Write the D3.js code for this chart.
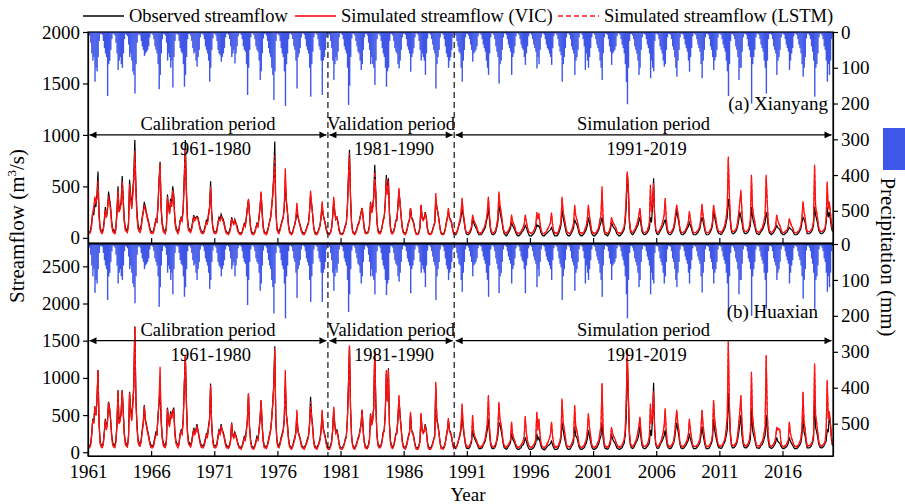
<!DOCTYPE html>
<html>
<head>
<meta charset="utf-8">
<script src="https://cdn.jsdelivr.net/npm/d3@7"></script>
<style>
  body { margin: 0; background: #fff; }
  svg text { font-family: "Liberation Serif", "Times New Roman", serif; fill: #000; }
</style>
</head>
<body>
<div id="chart"></div>
<script>
// monthly values, Jan 1961 - Dec 2019, one row per year
const xTicks = [1961, 1966, 1971, 1976, 1981, 1986, 1991, 1996, 2001, 2006, 2011, 2016];
const flowTicksXY = [0, 500, 1000, 1500, 2000];
const flowTicksHX = [0, 500, 1000, 1500, 2000, 2500];
const precipTicks = [0, 100, 200, 300, 400, 500];
const dividers = [1980, 1990];

const periods = [
  { name: "Calibration period", span: "1961-1980", from: 1961, to: 1980 },
  { name: "Validation period", span: "1981-1990", from: 1980, to: 1990 },
  { name: "Simulation period", span: "1991-2019", from: 1990, to: 2020 },
];

const precipXY = [
6,10,30,60,80,70,139,100,110,70,25,6,
5,8,25,45,60,70,179,90,80,50,20,5,
6,10,30,60,106,80,70,90,100,60,20,5,
8,12,35,70,60,80,110,120,172,90,30,8,
5,10,25,40,50,67,60,55,50,40,15,5,
4,8,20,40,50,60,90,160,120,60,20,5,
6,10,30,80,60,70,100,80,155,70,25,6,
5,8,25,45,55,60,90,153,120,70,20,5,
5,10,25,45,60,55,80,97,70,50,15,5,
4,8,20,40,50,60,80,139,100,50,18,5,
5,10,25,50,60,65,83,70,60,45,15,5,
4,8,20,40,70,60,50,88,60,40,12,4,
4,8,20,40,50,55,90,176,100,50,15,4,
4,8,20,40,50,55,80,134,110,60,18,5,
5,10,25,45,60,70,100,120,190,110,25,5,
6,10,25,45,60,70,110,207,90,60,20,5,
4,8,20,40,50,80,158,70,60,45,15,4,
4,8,20,40,50,60,100,181,90,55,15,4,
4,8,20,40,50,80,176,80,70,50,15,4,
4,8,25,45,80,134,90,70,80,55,15,4,
4,8,20,40,50,60,100,204,150,70,18,5,
5,10,25,40,55,60,80,106,90,50,15,5,
5,10,30,50,90,70,90,100,148,80,20,5,
6,10,25,45,60,70,100,153,110,100,25,6,
5,10,25,45,55,60,90,102,80,50,15,5,
4,8,20,40,50,60,111,70,60,45,15,4,
4,8,25,50,80,60,70,80,120,60,18,4,
4,8,20,35,50,60,158,90,70,50,15,4,
4,8,20,40,60,70,100,80,70,50,15,4,
5,10,25,40,55,60,100,139,80,50,15,5,
5,10,20,35,50,83,60,55,50,40,12,4,
4,8,20,35,45,55,80,100,120,60,15,4,
4,8,20,40,55,70,144,90,80,50,15,4,
4,8,20,35,45,55,120,70,60,40,12,4,
4,8,20,35,45,50,70,92,60,40,12,4,
4,8,20,35,45,55,102,70,90,50,15,4,
4,8,20,35,45,50,60,70,92,45,12,4,
4,8,20,40,55,65,139,90,70,45,15,4,
4,8,20,40,50,60,120,80,70,50,15,4,
4,8,20,40,106,60,80,100,70,45,15,4,
4,8,20,35,45,55,80,100,134,60,15,4,
5,8,20,40,55,92,60,55,50,40,12,4,
4,8,20,35,45,60,90,140,202,100,25,6,
5,10,20,40,50,60,80,120,100,50,15,5,
5,8,20,35,45,60,129,80,100,110,25,5,
5,8,20,40,50,60,80,97,90,50,15,5,
5,8,20,40,50,70,100,125,80,50,15,5,
5,8,20,35,45,55,80,111,70,45,12,4,
5,8,20,35,45,55,90,129,80,50,15,5,
5,8,20,40,50,70,106,80,70,50,15,5,
5,8,20,35,45,55,80,110,179,90,25,6,
5,10,20,40,50,70,134,100,100,55,15,5,
5,8,20,40,50,70,200,90,70,50,15,5,
5,8,20,35,45,55,80,100,172,80,20,5,
5,8,20,40,50,60,120,80,70,50,15,5,
5,8,20,35,45,55,106,80,60,45,12,4,
5,8,20,35,45,60,90,125,100,70,18,5,
5,10,20,40,55,80,181,100,90,60,15,5,
5,10,20,40,50,80,139,90,120,80,20,5
];

const obsXY = [
60,50,80,150,250,220,330,300,420,645,250,100,
70,60,90,180,300,200,260,450,380,300,160,90,
70,60,110,260,500,260,300,350,600,380,180,100,
80,70,150,565,420,300,450,600,950,520,260,130,
90,80,120,200,260,350,300,250,200,160,110,70,
60,50,80,130,180,160,320,560,740,300,150,90,
70,60,110,420,300,250,380,330,500,420,200,110,
80,60,90,170,200,180,300,600,950,480,200,100,
80,70,100,160,220,180,200,210,200,150,100,70,
60,50,80,120,170,150,230,300,550,260,120,70,
60,50,80,150,200,180,230,200,180,140,90,60,
50,50,70,110,200,160,140,180,150,120,80,50,
50,40,60,100,140,120,200,300,370,230,110,60,
50,40,60,100,140,120,200,300,430,250,110,60,
50,50,70,110,160,200,300,420,600,935,300,110,
70,60,90,130,170,200,300,500,350,260,130,70,
50,40,60,100,130,180,250,200,160,130,90,60,
50,40,60,90,120,150,250,400,330,230,110,60,
50,40,60,90,120,200,300,220,180,140,90,50,
40,40,60,100,200,350,250,180,200,160,90,50,
40,40,50,80,120,150,300,600,855,400,150,70,
50,40,60,90,130,150,200,250,290,200,100,60,
50,50,70,120,350,250,300,400,710,450,180,80,
60,50,70,110,180,200,350,610,450,580,250,100,
60,50,70,110,170,180,300,450,350,230,120,60,
50,40,60,100,150,180,290,200,180,150,90,50,
40,40,60,110,320,200,180,200,250,200,100,50,
40,40,50,80,120,150,350,300,250,180,100,50,
40,40,50,90,150,200,250,200,180,150,90,50,
40,30,50,80,120,150,200,280,220,150,80,40,
30,30,40,60,90,180,150,120,100,80,50,30,
30,30,40,60,80,100,150,200,300,180,80,40,
30,30,40,60,100,150,330,250,200,150,80,40,
30,20,30,50,70,90,150,120,100,80,50,30,
20,20,30,40,60,70,90,120,100,70,40,20,
20,20,30,40,60,80,130,110,120,90,50,30,
20,20,30,40,50,60,70,80,100,70,40,20,
20,20,30,50,80,120,270,200,150,100,50,30,
20,20,30,50,70,100,180,150,130,100,50,30,
20,20,30,40,60,80,120,200,150,100,50,30,
20,20,30,40,60,80,120,150,200,130,60,30,
30,20,30,50,80,150,120,100,90,70,40,30,
20,20,30,40,60,80,150,300,620,450,150,60,
40,30,40,60,80,100,120,160,200,130,60,40,
30,30,40,50,70,90,200,150,300,580,200,70,
40,30,40,60,80,100,120,150,180,120,60,40,
30,30,40,60,80,120,200,270,200,150,70,40,
30,30,40,50,70,90,110,150,120,90,50,30,
30,30,40,50,70,90,150,200,160,110,60,30,
30,30,40,60,80,120,270,200,150,100,60,40,
40,30,40,60,80,100,150,200,380,300,150,60,
40,40,50,60,80,120,180,250,200,150,80,50,
40,40,50,60,80,120,300,200,150,120,70,40,
40,30,40,60,70,90,120,150,250,200,100,50,
40,30,40,50,70,90,120,100,90,80,50,40,
30,30,40,50,60,80,100,90,80,70,50,30,
30,30,40,50,70,90,150,200,180,150,80,40,
40,40,50,60,80,120,300,220,180,130,70,50,
40,40,50,60,80,150,300,200,250,180,100,60
];

const vicXY = [
40,40,60,120,250,300,400,350,380,500,200,80,
50,40,70,150,250,200,300,380,350,260,120,60,
50,40,80,220,450,250,280,330,520,330,150,70,
60,50,120,500,380,280,400,550,780,450,200,90,
60,50,90,180,240,300,280,230,180,140,90,50,
40,40,60,110,160,150,300,520,700,280,120,60,
50,40,90,380,280,230,350,300,450,380,160,80,
60,40,70,150,180,160,280,560,800,420,160,70,
60,50,80,140,200,170,190,200,180,130,80,50,
40,40,60,100,150,140,210,280,470,230,100,50,
40,40,60,130,180,170,200,180,160,120,70,40,
40,30,50,90,180,150,130,170,140,100,60,40,
30,30,50,90,130,110,190,290,380,220,90,40,
30,30,50,90,130,110,190,290,450,240,90,40,
40,30,50,100,150,190,280,400,560,700,260,80,
50,40,70,120,160,190,300,677,380,250,110,50,
40,30,50,90,130,190,340,220,160,120,70,40,
30,30,50,80,110,140,250,460,330,220,90,40,
30,30,50,80,120,210,354,230,180,130,70,40,
30,30,50,90,210,400,260,180,200,150,70,40,
30,30,40,70,110,140,290,560,780,380,130,50,
40,30,50,80,120,140,190,240,290,190,80,40,
40,40,60,110,330,240,280,380,570,420,160,60,
40,40,60,100,170,190,330,550,420,520,220,80,
40,40,60,100,160,170,300,484,330,210,100,50,
40,30,50,90,140,170,290,190,170,140,80,40,
30,30,50,100,320,190,170,190,240,190,90,40,
30,30,40,70,110,140,435,290,240,170,90,40,
30,30,40,80,140,190,290,190,170,140,80,40,
50,50,60,90,140,180,250,390,260,180,90,60,
50,50,60,80,110,225,180,150,130,100,70,50,
50,50,60,80,100,130,180,250,400,230,100,60,
50,50,60,80,130,200,450,320,260,180,100,60,
50,50,60,70,90,120,225,160,140,110,70,50,
50,40,50,60,80,100,130,225,160,110,70,50,
50,40,50,70,90,120,250,180,240,150,80,50,
40,40,50,60,80,100,120,150,245,130,70,50,
50,40,50,80,110,160,400,260,200,140,80,50,
50,40,50,70,100,140,320,220,180,140,80,50,
50,40,50,60,90,120,180,320,220,150,80,50,
50,40,50,60,80,110,170,220,500,200,90,50,
50,40,50,70,110,200,160,140,120,100,70,50,
50,40,50,60,80,110,200,400,645,500,180,80,
60,50,60,80,100,130,160,220,290,180,90,60,
50,50,60,70,100,150,515,250,350,500,220,90,
60,50,60,80,100,130,170,220,387,200,90,60,
50,50,60,80,100,160,250,320,250,180,90,60,
50,50,60,70,90,120,150,260,180,120,70,50,
50,50,60,70,90,120,200,330,220,150,80,50,
50,50,60,80,100,160,320,250,200,130,80,60,
60,50,60,80,100,140,200,300,790,420,180,80,
60,60,70,80,100,160,250,350,467,250,110,70,
60,60,70,80,110,180,612,300,220,170,100,60,
60,50,60,80,90,120,170,220,612,350,150,70,
60,50,60,70,90,120,225,170,140,120,80,60,
50,50,60,70,80,110,190,150,120,100,70,50,
50,50,60,70,90,120,200,355,250,200,110,60,
60,60,70,80,100,160,710,300,250,180,100,70,
60,60,70,80,100,180,548,280,350,250,150,80
];

const lstmXY = [
50,50,70,130,260,260,370,330,400,560,220,90,
60,50,80,160,270,200,280,410,360,270,140,70,
60,50,90,240,470,250,290,340,560,350,160,80,
70,60,130,520,400,290,420,570,850,480,220,100,
70,60,100,190,250,320,290,240,190,150,100,60,
50,50,70,120,170,150,310,540,720,290,130,70,
60,50,100,400,290,240,360,310,470,400,180,90,
70,50,80,160,190,170,290,580,870,450,180,80,
70,60,90,150,210,170,190,200,190,140,90,60,
50,50,70,110,160,140,220,290,500,240,110,60,
50,50,70,140,190,170,210,190,170,130,80,50,
40,40,60,100,190,150,140,170,150,110,70,40,
40,40,50,90,130,120,190,290,370,220,100,50,
40,40,50,90,130,110,190,300,440,240,100,50,
50,40,60,100,150,190,290,410,580,800,280,90,
60,50,80,120,160,190,300,600,360,250,120,60,
40,40,50,90,130,180,300,210,160,120,80,50,
40,40,50,80,110,140,250,430,330,220,100,50,
40,40,50,80,120,200,330,220,180,130,80,40,
40,30,50,90,200,380,250,180,200,150,80,40,
40,40,50,80,110,140,290,580,820,390,140,60,
40,40,50,80,120,140,190,240,290,190,90,50,
40,40,60,110,340,240,290,390,640,430,170,70,
50,40,60,100,170,190,340,580,430,550,230,90,
50,40,60,100,160,170,300,470,340,220,110,50,
40,40,50,90,140,170,290,190,170,140,80,40,
40,40,50,100,320,190,170,190,240,190,90,40,
40,40,50,80,110,140,400,290,240,170,90,40,
40,30,40,80,140,190,280,190,170,140,80,40,
50,40,60,90,130,170,240,370,250,170,90,50,
50,40,60,80,110,210,170,150,130,100,60,50,
50,40,60,80,100,130,170,240,380,220,100,60,
50,40,60,80,120,190,430,310,250,170,90,60,
50,40,50,70,90,120,210,160,140,110,70,50,
40,40,50,60,80,100,130,210,160,110,70,50,
40,40,50,70,90,120,240,180,230,150,80,50,
40,40,50,60,80,100,120,150,230,130,70,40,
50,40,50,80,110,160,380,250,190,140,80,50,
50,40,50,70,100,140,300,220,180,130,80,50,
40,40,50,60,90,120,180,300,210,150,80,50,
40,40,50,60,80,110,170,220,460,200,90,50,
50,40,50,70,110,190,160,140,120,100,70,50,
50,40,50,60,80,110,200,390,630,490,180,80,
50,50,60,80,100,130,160,220,280,180,90,60,
50,50,60,70,100,150,480,250,350,540,220,90,
60,50,60,80,100,130,170,220,370,200,90,60,
50,50,60,80,100,160,250,310,250,180,90,60,
50,50,60,70,90,120,150,250,180,120,70,50,
50,50,60,70,90,120,200,320,220,150,80,50,
50,50,60,80,100,160,310,250,200,130,80,60,
60,50,60,80,100,140,200,300,760,420,180,80,
60,60,70,80,100,160,250,350,450,250,110,70,
60,60,70,80,110,180,590,300,220,170,100,60,
60,50,60,80,90,120,170,220,590,350,150,70,
60,50,60,70,90,120,220,170,140,120,80,60,
50,50,60,70,80,110,180,150,120,100,70,50,
50,50,60,70,90,120,200,340,250,200,110,60,
60,60,70,80,100,160,690,300,250,180,100,70,
60,60,70,80,100,180,530,280,340,250,150,80
];

const precipHX = [
6,10,30,60,90,70,136,100,110,70,25,6,
5,8,25,45,60,70,156,90,80,50,20,5,
6,10,30,60,110,80,70,90,100,60,20,5,
8,12,35,70,60,80,110,120,165,90,30,8,
5,10,25,40,50,70,60,55,50,40,15,5,
4,8,20,40,50,60,90,175,120,60,20,5,
6,10,30,80,60,70,100,80,140,70,25,6,
5,8,25,45,55,60,90,147,120,70,20,5,
5,10,25,45,60,55,80,100,70,50,15,5,
4,8,20,40,50,60,80,125,100,50,18,5,
5,10,25,50,60,65,90,70,60,45,15,5,
4,8,20,40,70,60,50,90,60,40,12,4,
4,8,20,40,50,55,90,170,100,50,15,4,
4,8,20,40,50,55,80,130,110,60,18,5,
5,10,25,45,60,70,100,120,193,110,25,5,
6,10,25,45,60,70,110,207,90,60,20,5,
4,8,20,40,50,80,150,70,60,45,15,4,
4,8,20,40,50,60,100,161,90,55,15,4,
4,8,20,40,50,80,161,80,70,50,15,4,
4,8,25,45,80,130,90,70,80,55,15,4,
4,8,20,40,50,60,100,189,140,70,18,5,
5,10,25,40,55,60,80,110,90,50,15,5,
5,10,30,50,90,70,90,100,140,80,20,5,
6,10,25,45,60,70,100,142,110,100,25,6,
5,10,25,45,55,60,90,105,80,50,15,5,
4,8,20,40,50,60,137,70,60,45,15,4,
4,8,25,50,80,60,70,80,120,60,18,4,
4,8,20,35,50,60,156,90,70,50,15,4,
4,8,20,40,60,70,100,80,70,50,15,4,
5,10,25,40,55,60,100,133,80,50,15,5,
5,10,20,35,50,90,60,55,50,40,12,4,
4,8,20,35,45,55,80,100,147,60,15,4,
4,8,20,40,55,70,137,90,80,50,15,4,
4,8,20,35,45,55,110,70,60,40,12,4,
4,8,20,35,45,50,70,137,60,40,12,4,
4,8,20,35,45,55,120,70,90,50,15,4,
4,8,20,35,45,50,60,70,100,45,12,4,
4,8,20,40,55,65,156,90,70,45,15,4,
4,8,20,40,50,60,130,80,70,50,15,4,
4,8,20,40,110,60,80,100,70,45,15,4,
4,8,20,35,45,55,80,100,147,60,15,4,
5,8,20,40,55,100,60,55,50,40,12,4,
4,8,20,35,45,60,90,140,207,100,25,6,
5,10,20,40,50,60,80,120,100,50,15,5,
5,8,20,35,45,60,140,80,100,110,25,5,
5,8,20,40,50,60,80,110,90,50,15,5,
5,8,20,40,50,70,100,120,80,50,15,5,
5,8,20,35,45,55,80,110,70,45,12,4,
5,8,20,35,45,55,90,135,80,50,15,5,
5,8,20,40,50,70,110,80,70,50,15,5,
5,8,20,35,45,55,80,110,189,90,25,6,
5,10,20,40,50,70,140,100,100,55,15,5,
5,8,20,40,50,70,200,90,70,50,15,5,
5,8,20,35,45,55,80,100,180,80,20,5,
5,8,20,40,50,60,100,80,70,50,15,5,
5,8,20,35,45,55,110,80,60,45,12,4,
5,8,20,35,45,60,90,152,100,70,18,5,
5,10,20,40,55,80,180,100,90,60,15,5,
5,10,20,40,50,80,133,90,120,80,20,5
];

const obsHX = [
90,80,120,250,450,400,600,500,700,1105,400,150,
100,90,130,280,450,320,420,680,600,450,240,130,
100,90,160,380,836,400,450,550,836,560,260,140,
110,100,220,813,600,450,650,900,1690,750,380,180,
130,110,170,300,400,635,450,380,300,240,160,100,
90,80,120,200,270,250,480,650,800,450,220,130,
100,90,160,600,430,370,550,480,560,600,290,160,
120,90,130,250,300,270,450,900,1306,700,290,150,
120,100,150,240,330,270,300,380,300,220,150,100,
90,80,120,180,250,230,350,450,925,400,180,100,
90,80,120,220,300,270,380,300,270,210,140,90,
80,70,100,170,400,240,210,270,230,180,120,80,
70,60,90,150,210,180,300,450,790,350,170,90,
70,60,90,150,210,180,300,450,700,380,170,90,
80,70,100,170,240,300,450,650,900,1426,450,170,
100,90,130,200,250,300,450,900,520,390,200,100,
70,60,90,150,200,270,480,300,240,200,130,80,
70,60,90,130,180,220,380,746,500,350,160,90,
70,60,90,130,180,300,500,330,270,210,130,70,
60,60,90,150,300,560,380,270,300,240,130,70,
60,60,80,120,180,220,450,900,1430,600,220,100,
70,60,90,130,190,220,300,380,570,300,150,90,
70,70,100,180,520,380,450,600,1350,680,270,120,
90,80,100,160,270,300,520,1050,700,1130,380,150,
90,70,100,160,250,270,450,700,520,350,180,90,
70,60,90,150,220,270,500,300,270,220,130,70,
60,60,90,160,500,300,270,300,380,300,150,70,
60,60,80,120,180,220,850,450,380,270,150,70,
60,60,80,130,220,300,420,300,270,220,130,70,
60,50,80,120,180,220,300,500,330,220,120,60,
50,50,60,90,140,300,220,180,150,120,80,50,
50,50,60,90,120,150,220,300,450,270,120,60,
50,50,60,90,150,220,400,370,300,220,120,60,
50,40,50,80,100,130,250,180,150,120,80,50,
40,40,50,60,90,100,130,200,150,100,60,40,
40,40,50,60,90,120,250,170,200,140,80,50,
40,30,40,60,80,90,100,120,150,100,60,40,
40,40,50,80,120,180,400,300,220,150,80,50,
40,40,50,80,100,150,350,220,200,150,80,50,
40,40,50,60,90,120,180,300,220,150,80,50,
40,40,50,60,90,120,180,220,400,200,90,50,
50,40,50,80,120,250,180,150,130,100,60,50,
40,40,50,60,90,120,220,450,1280,700,220,90,
60,50,60,90,120,150,180,240,350,200,90,60,
50,50,60,80,100,130,300,220,450,934,300,110,
60,50,60,90,120,150,180,220,300,180,90,60,
50,50,60,90,120,180,300,400,300,220,110,60,
50,50,60,80,100,130,160,250,180,130,80,50,
50,50,60,80,100,130,220,350,240,160,90,50,
50,50,60,90,120,180,450,300,220,150,90,60,
60,50,60,90,120,150,220,300,800,500,220,90,
60,60,70,90,120,180,270,380,500,230,120,70,
60,60,70,90,120,180,600,300,230,180,110,60,
60,50,60,90,100,130,180,230,500,300,150,70,
60,50,60,80,100,130,200,150,130,120,80,60,
50,50,60,70,90,120,200,150,120,100,70,50,
50,50,60,80,100,130,230,500,270,220,120,60,
60,60,70,90,120,180,700,330,270,200,110,70,
60,60,70,90,120,150,300,270,500,380,180,90
];

const vicHX = [
60,60,90,220,420,400,620,500,680,1105,380,120,
70,60,100,250,420,300,400,650,580,420,200,90,
70,60,130,350,800,380,420,520,820,520,230,100,
80,70,190,780,560,420,620,850,1686,700,340,140,
90,80,140,270,370,600,420,350,270,210,130,70,
60,60,90,170,240,230,460,700,1150,420,190,90,
70,60,130,580,400,340,520,450,540,570,250,120,
90,60,100,220,270,240,420,880,1300,650,250,110,
90,70,120,210,300,240,270,350,280,200,120,70,
60,60,90,150,220,200,320,420,880,370,150,70,
60,60,90,190,270,240,350,280,250,190,110,60,
60,50,80,140,380,220,190,250,210,160,100,60,
50,40,70,120,180,160,280,430,780,330,140,60,
50,40,70,120,180,160,280,430,690,360,140,60,
60,50,80,140,210,280,420,620,880,1340,420,140,
70,60,100,170,220,280,420,1105,500,360,170,70,
50,40,70,120,170,250,570,280,220,180,100,60,
50,40,70,110,150,200,350,600,460,320,130,60,
50,40,70,110,160,280,570,310,250,190,100,50,
40,40,70,130,280,612,360,250,280,220,110,50,
40,40,60,100,160,200,420,880,1417,580,200,80,
50,40,70,110,170,200,280,360,570,280,130,60,
50,50,80,160,500,360,420,580,1350,650,240,90,
60,60,80,140,250,280,500,1105,680,1080,350,120,
60,50,80,140,230,250,420,769,490,330,150,70,
50,40,70,130,200,250,545,280,250,200,110,50,
40,40,70,140,527,280,250,280,360,280,130,50,
40,40,60,100,160,200,947,430,360,250,130,50,
50,40,60,110,200,280,460,280,250,200,110,50,
80,70,90,130,190,250,350,657,380,250,140,90,
80,70,90,120,170,500,280,220,190,150,110,80,
80,70,90,110,150,190,280,400,769,350,150,90,
80,70,90,110,180,300,680,450,380,270,150,90,
80,70,90,100,130,170,410,250,200,160,110,80,
70,70,80,100,120,150,210,487,280,170,110,80,
70,70,80,100,130,170,545,300,450,250,130,80,
70,60,80,90,120,150,190,250,410,220,120,70,
80,70,80,110,160,230,724,420,320,220,120,80,
80,70,80,110,150,200,635,350,300,220,120,80,
70,70,80,100,130,180,280,523,350,240,120,80,
70,70,80,100,130,170,270,350,925,330,140,80,
80,70,80,110,170,340,260,220,190,150,110,80,
80,70,80,100,130,170,300,700,1373,800,280,120,
90,80,90,120,150,200,260,350,478,280,140,90,
80,80,90,110,150,220,657,380,500,800,320,130,
90,80,90,120,150,200,260,350,590,300,140,90,
80,80,90,120,150,250,420,570,400,300,140,90,
80,80,90,110,140,180,240,450,300,200,110,80,
80,80,90,110,140,180,320,570,380,250,130,80,
80,80,90,120,150,250,702,450,330,220,130,90,
90,80,90,120,150,200,320,480,1507,650,280,120,
90,90,100,120,150,250,400,550,769,400,170,100,
90,90,100,120,170,280,1082,500,350,260,150,90,
90,80,90,120,140,180,260,350,1306,550,230,110,
90,80,90,110,140,200,340,300,320,300,150,90,
80,80,90,100,130,170,410,260,200,160,110,80,
80,80,90,110,140,190,320,813,400,320,170,90,
90,90,100,120,150,250,1194,500,400,280,150,100,
90,90,100,120,150,300,970,450,550,400,220,110
];

const lstmHX = [
70,70,100,230,430,390,600,500,690,1080,390,130,
80,70,110,260,430,310,410,670,590,430,220,100,
80,70,140,360,820,390,430,530,830,540,240,110,
90,80,200,800,580,430,630,880,1690,720,360,150,
100,90,150,280,380,620,430,360,280,220,140,80,
70,70,100,180,250,240,470,680,1000,430,200,100,
80,70,140,590,410,350,530,460,550,580,260,130,
100,70,110,230,280,250,430,890,1310,670,260,120,
100,80,130,220,310,250,280,360,290,210,130,80,
70,70,100,160,230,210,330,430,900,380,160,80,
70,70,100,200,280,250,360,290,260,200,120,70,
70,60,90,150,390,230,200,260,220,170,110,70,
60,50,80,130,190,170,290,440,790,340,150,70,
60,50,80,130,190,170,290,440,700,370,150,70,
70,60,90,150,220,290,430,630,890,1400,430,150,
80,70,110,180,230,290,430,1000,510,370,180,80,
60,50,80,130,180,260,540,290,230,190,110,70,
60,50,80,120,160,210,360,680,480,330,140,70,
60,50,80,120,170,290,550,320,260,200,110,60,
50,50,80,140,290,600,370,260,290,230,120,60,
50,50,70,110,170,210,430,890,1440,590,210,90,
60,50,80,120,180,210,290,370,570,290,140,70,
60,60,90,170,510,370,430,590,1360,660,250,100,
70,70,90,150,260,290,510,1080,690,1110,360,130,
70,60,90,150,240,260,430,750,500,340,160,80,
60,50,80,140,210,260,530,290,260,210,120,60,
50,50,80,150,520,290,260,290,370,290,140,60,
50,50,70,110,170,210,920,440,370,260,140,60,
60,50,70,120,210,290,450,290,260,210,120,60,
70,60,80,120,180,240,340,640,370,240,130,80,
70,60,80,110,160,480,270,210,180,140,100,70,
70,60,80,100,140,180,270,390,750,340,140,80,
70,60,80,100,170,290,660,440,370,260,140,80,
70,60,80,90,120,160,400,240,190,150,100,70,
60,60,70,90,110,140,200,470,270,160,100,70,
60,60,70,90,120,160,530,290,440,240,120,70,
60,50,70,80,110,140,180,240,400,210,110,60,
70,60,70,100,150,220,700,410,310,210,110,70,
70,60,70,100,140,190,620,340,290,210,110,70,
60,60,70,90,120,170,270,510,340,230,110,70,
60,60,70,90,120,160,260,340,930,320,130,70,
70,60,70,100,160,330,250,210,180,140,100,70,
70,60,70,90,120,160,290,680,1300,780,270,110,
80,70,80,110,140,190,250,340,470,270,130,80,
70,70,80,100,140,210,640,370,490,820,310,120,
80,70,80,110,140,190,250,340,570,290,130,80,
70,70,80,110,140,240,410,560,390,290,130,80,
70,70,80,100,130,170,230,440,290,190,100,70,
70,70,80,100,130,170,310,560,370,240,120,70,
70,70,80,110,140,240,690,440,320,210,120,80,
80,70,80,110,140,190,310,470,1480,640,270,110,
80,80,90,110,140,240,390,540,750,390,160,90,
80,80,90,110,160,270,1060,490,340,250,140,80,
80,70,80,110,130,170,250,340,1290,540,220,100,
80,70,80,100,130,190,330,290,310,290,140,80,
70,70,80,90,120,160,400,250,190,150,100,70,
70,70,80,100,130,180,310,800,390,310,160,80,
80,80,90,110,140,240,1180,490,390,270,140,90,
80,80,90,110,140,290,950,440,540,390,210,100
];

class StreamflowChart {
  constructor(_config) {
    this.config = {
      parentElement: _config.parentElement,
      containerWidth: 905,
      containerHeight: 504,
      left: 88,
      right: 833,
      rainColor: "#3f57e8",
      fontSize: 19,
    };
    this.panels = [
      { precip: precipXY, obs: obsXY, vic: vicXY, lstm: lstmXY, top: 32, bottom: 243,
        flowDomain: [-50, 2000], flowTicks: flowTicksXY, label: "(a) Xianyang",
        labelX: 828, labelY: 110, arrowValue: 1000 },
      { precip: precipHX, obs: obsHX, vic: vicHX, lstm: lstmHX, top: 244, bottom: 456,
        flowDomain: [-50, 2800], flowTicks: flowTicksHX, label: "(b) Huaxian",
        labelX: 818, labelY: 318, arrowValue: 1500 },
    ];
    this.initVis();
  }

  initVis() {
    let vis = this;
    const cfg = vis.config;

    vis.svg = d3.select(cfg.parentElement).append("svg")
      .attr("width", cfg.containerWidth)
      .attr("height", cfg.containerHeight);

    vis.xScale = d3.scaleLinear().domain([1961, 2020]).range([cfg.left, cfg.right]);

    const defs = vis.svg.append("defs");
    defs.append("marker")
      .attr("id", "arrowHead")
      .attr("viewBox", "0 0 10 10")
      .attr("refX", 10).attr("refY", 5)
      .attr("markerWidth", 9).attr("markerHeight", 7)
      .attr("markerUnits", "userSpaceOnUse")
      .attr("orient", "auto-start-reverse")
      .append("path").attr("d", "M0,0L10,5L0,10Z").attr("fill", "#000");

    vis.panels.forEach((p, k) => {
      defs.append("clipPath").attr("id", `clip${k}`)
        .append("rect")
        .attr("x", cfg.left).attr("y", p.top)
        .attr("width", cfg.right - cfg.left).attr("height", p.bottom - p.top);
    });

    vis.renderVis();
  }

  renderVis() {
    let vis = this;
    const cfg = vis.config;
    const x = vis.xScale;
    const monthX = (i) => x(1961 + (i + 0.5) / 12);
    const barW = x(1961 + 1 / 12) - x(1961) + 0.35;

    vis.panels.forEach((p, k) => {
      const yFlow = d3.scaleLinear().domain(p.flowDomain).range([p.bottom, p.top]);
      const yRain = d3.scaleLinear().domain([0, 590]).range([p.top, p.bottom]);
      const g = vis.svg.append("g");
      const plot = g.append("g").attr("clip-path", `url(#clip${k})`);

      // precipitation bars hanging from the top
      plot.selectAll(".rain")
        .data(p.precip)
        .join("rect")
        .attr("class", "rain")
        .attr("x", (d, i) => x(1961 + i / 12))
        .attr("y", p.top)
        .attr("width", barW)
        .attr("height", (d) => yRain(d) - yRain(0))
        .attr("fill", cfg.rainColor);

      // period annotations
      const arrowY = yFlow(p.arrowValue);
      periods.forEach((per) => {
        const x0 = x(per.from) + 1.5;
        const x1 = x(per.to) - 1.5;
        g.append("line")
          .attr("x1", x0).attr("x2", x1)
          .attr("y1", arrowY).attr("y2", arrowY)
          .attr("stroke", "#000").attr("stroke-width", 1.2)
          .attr("marker-start", "url(#arrowHead)")
          .attr("marker-end", "url(#arrowHead)");
        g.append("text")
          .attr("x", (x0 + x1) / 2).attr("y", arrowY - 5)
          .attr("text-anchor", "middle")
          .style("font-size", "18.5px")
          .text(per.name);
        g.append("text")
          .attr("x", (x0 + x1) / 2 + 3).attr("y", arrowY + 20)
          .attr("text-anchor", "middle")
          .style("font-size", "18.5px")
          .text(per.span);
      });

      const line = d3.line().x((d, i) => monthX(i)).y((d) => yFlow(d));

      plot.append("path").datum(p.obs)
        .attr("d", line).attr("fill", "none")
        .attr("stroke", "#000").attr("stroke-width", 1.2);
      plot.append("path").datum(p.vic)
        .attr("d", line).attr("fill", "none")
        .attr("stroke", "#ff0000").attr("stroke-width", 1.2);
      plot.append("path").datum(p.lstm)
        .attr("d", line).attr("fill", "none")
        .attr("stroke", "#ff1a1a").attr("stroke-width", 1.2)
        .attr("stroke-dasharray", "4,2");

      g.append("text")
        .attr("x", p.labelX).attr("y", p.labelY)
        .attr("text-anchor", "end")
        .style("font-size", "19px")
        .text(p.label);

      // frame
      g.append("rect")
        .attr("x", cfg.left).attr("y", p.top)
        .attr("width", cfg.right - cfg.left).attr("height", p.bottom - p.top)
        .attr("fill", "none").attr("stroke", "#000").attr("stroke-width", 1.2);

      const styleAxis = (sel) => {
        sel.attr("font-family", null).attr("font-size", null);
        sel.selectAll("text").style("font-size", `${cfg.fontSize}px`);
        sel.selectAll("line, path").attr("stroke", "#000").attr("stroke-width", 1.2);
      };

      g.append("g")
        .attr("transform", `translate(${cfg.left},0)`)
        .call(d3.axisLeft(yFlow).tickValues(p.flowTicks).tickFormat(d3.format("d"))
          .tickSize(5).tickSizeOuter(0).tickPadding(3))
        .call(styleAxis);

      g.append("g")
        .attr("transform", `translate(${cfg.right},0)`)
        .call(d3.axisRight(yRain).tickValues(precipTicks).tickFormat(d3.format("d"))
          .tickSize(5).tickSizeOuter(0).tickPadding(3))
        .call(styleAxis);

      const bottomAxis = d3.axisBottom(x).tickValues(xTicks).tickSize(-5).tickSizeOuter(0)
        .tickPadding(9).tickFormat(k === 1 ? d3.format("d") : "");
      g.append("g")
        .attr("transform", `translate(0,${p.bottom})`)
        .call(bottomAxis)
        .call(styleAxis);
    });

    // period dividers
    vis.svg.selectAll(".divider")
      .data(dividers)
      .join("line")
      .attr("class", "divider")
      .attr("x1", (d) => x(d)).attr("x2", (d) => x(d))
      .attr("y1", vis.panels[0].top).attr("y2", vis.panels[1].bottom)
      .attr("stroke", "#111").attr("stroke-width", 1.2)
      .attr("stroke-dasharray", "6,4");

    // axis titles
    const leftTitle = vis.svg.append("text")
      .attr("transform", "translate(24,226) rotate(-90)")
      .attr("text-anchor", "middle")
      .style("font-size", "21px");
    leftTitle.append("tspan").text("Streamflow (m");
    leftTitle.append("tspan").attr("dy", -8).style("font-size", "13px").text("3");
    leftTitle.append("tspan").attr("dy", 8).text("/s)");

    vis.svg.append("text")
      .attr("transform", "translate(881,257) rotate(90)")
      .attr("text-anchor", "middle")
      .style("font-size", "21px")
      .text("Precipitation (mm)");

    vis.svg.append("text")
      .attr("x", 468).attr("y", 501)
      .attr("text-anchor", "middle")
      .style("font-size", "19px")
      .text("Year");

    vis.svg.append("rect")
      .attr("x", 883).attr("y", 128)
      .attr("width", 24).attr("height", 42)
      .attr("fill", cfg.rainColor);

    // legend
    const legend = [
      { label: "Observed streamflow", color: "#000", dash: null, x: 83 },
      { label: "Simulated streamflow (VIC)", color: "#ff0000", dash: null, x: 295 },
      { label: "Simulated streamflow (LSTM)", color: "#ff1a1a", dash: "5,3", x: 558 },
    ];
    const lg = vis.svg.append("g");
    legend.forEach((d) => {
      lg.append("line")
        .attr("x1", d.x).attr("x2", d.x + 41)
        .attr("y1", 16).attr("y2", 16)
        .attr("stroke", d.color).attr("stroke-width", 1.3)
        .attr("stroke-dasharray", d.dash);
      lg.append("text")
        .attr("x", d.x + 46).attr("y", 22)
        .style("font-size", "18.5px")
        .text(d.label);
    });
  }
}

new StreamflowChart({ parentElement: "#chart" });
</script>
</body>
</html>
